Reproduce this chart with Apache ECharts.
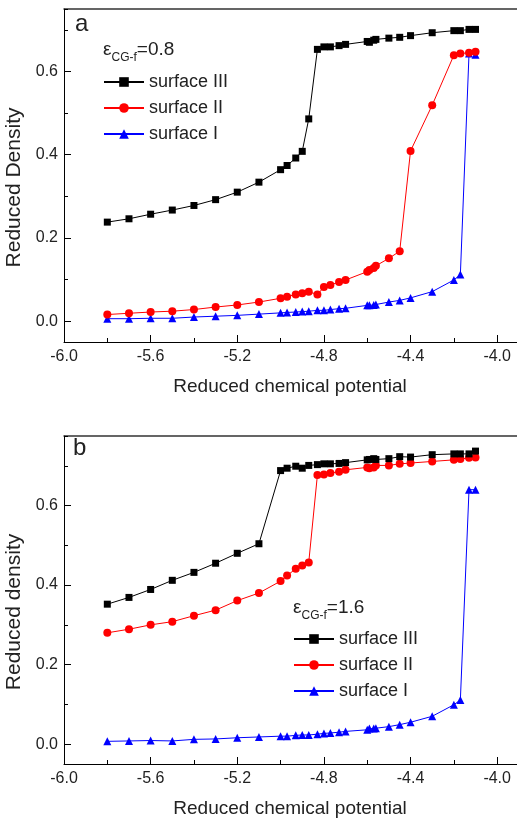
<!DOCTYPE html>
<html>
<head>
<meta charset="utf-8">
<script src="https://cdn.jsdelivr.net/npm/echarts@6/dist/echarts.min.js"></script>
<style>
html,body{margin:0;padding:0;background:#fff;overflow:hidden;}
#c{width:517px;height:821px;}
</style>
</head>
<body>
<div id="c"></div>
<script>
// x values (reduced chemical potential), shared by all series
var xVals = [-5.8,-5.7,-5.6,-5.5,-5.4,-5.3,-5.2,-5.1,-5.0,-4.97,-4.93,-4.9,-4.87,-4.83,-4.8,-4.77,-4.73,-4.7,-4.6,-4.59,-4.57,-4.56,-4.5,-4.45,-4.4,-4.3,-4.2,-4.17,-4.13,-4.1];

// panel a (eps = 0.8)
var a_surfIII = [0.238,0.246,0.257,0.267,0.278,0.292,0.310,0.334,0.364,0.374,0.392,0.408,0.486,0.653,0.659,0.659,0.662,0.665,0.672,0.670,0.675,0.677,0.680,0.682,0.686,0.693,0.698,0.698,0.701,0.701];
var a_surfII  = [0.016,0.019,0.022,0.024,0.028,0.034,0.039,0.046,0.055,0.059,0.064,0.067,0.071,0.064,0.082,0.087,0.094,0.099,0.119,0.123,0.128,0.133,0.151,0.168,0.409,0.519,0.639,0.643,0.645,0.647];
var a_surfI   = [0.006,0.006,0.007,0.007,0.010,0.012,0.014,0.017,0.020,0.021,0.022,0.023,0.024,0.026,0.026,0.028,0.030,0.031,0.038,0.038,0.039,0.040,0.046,0.050,0.056,0.071,0.099,0.112,0.643,0.640];

// panel b (eps = 1.6)
var b_surfIII = [0.352,0.369,0.389,0.412,0.432,0.455,0.480,0.504,0.688,0.694,0.699,0.694,0.701,0.703,0.705,0.705,0.706,0.708,0.715,0.716,0.718,0.716,0.718,0.723,0.722,0.728,0.730,0.730,0.730,0.737];
var b_surfII  = [0.280,0.289,0.300,0.308,0.323,0.337,0.361,0.380,0.410,0.424,0.441,0.449,0.457,0.677,0.678,0.682,0.685,0.690,0.696,0.694,0.696,0.701,0.701,0.705,0.707,0.711,0.715,0.717,0.720,0.721];
var b_surfI   = [0.007,0.008,0.009,0.008,0.012,0.013,0.016,0.018,0.020,0.020,0.022,0.023,0.023,0.025,0.027,0.028,0.030,0.032,0.036,0.039,0.039,0.040,0.044,0.049,0.055,0.070,0.099,0.111,0.640,0.640];

var seriesNames = ['surface III','surface II','surface I'];
var xTitle = 'Reduced chemical potential';
var yTitleA = 'Reduced Density';
var yTitleB = 'Reduced density';

var FONT = 'Liberation Sans, Arial, sans-serif';
var TXT = '#222';

function pairs(ys){ return xVals.map(function(x,i){ return [x, ys[i]]; }); }

var chart = echarts.init(document.getElementById('c'));

var X_MIN = -6, X_MAX = -3.83;
var grids = [
  {left:64, top:9, width:470, height:333, outerBoundsMode:'none'},
  {left:64, top:436, width:470, height:328, outerBoundsMode:'none'}
];
var yRanges = [[-0.05,0.75],[-0.05,0.775]];

var xAxes = [], yAxes = [];
[0,1].forEach(function(g){
  xAxes.push({type:'value', gridIndex:g, min:X_MIN, max:X_MAX, interval:0.4, position:'bottom',
    axisLine:{show:true, onZero:false, lineStyle:{color:'#000', width:1}},
    axisTick:{show:true, inside:true, length:7, lineStyle:{color:'#000'}},
    axisLabel:{show:true, margin:7, fontSize:16, color:TXT, fontFamily:FONT, showMaxLabel:false,
      formatter:function(v){ return v.toFixed(1); }},
    splitLine:{show:false},
    name:xTitle, nameLocation:'middle', nameGap:35,
    nameTextStyle:{fontSize:19, color:TXT, fontFamily:FONT, padding:[0,18,0,0]}
  });
  xAxes.push({type:'value', gridIndex:g, min:X_MIN, max:X_MAX, interval:0.2, position:'bottom',
    axisLine:{show:false, onZero:false},
    axisTick:{show:true, inside:true, length:4, lineStyle:{color:'#000'}},
    axisLabel:{show:false}, splitLine:{show:false}
  });
  xAxes.push({type:'value', gridIndex:g, min:X_MIN, max:X_MAX, position:'top',
    axisLine:{show:true, onZero:false, lineStyle:{color:'#333', width:1.5}},
    axisTick:{show:false}, axisLabel:{show:false}, splitLine:{show:false}
  });
  yAxes.push({type:'value', gridIndex:g, min:yRanges[g][0], max:yRanges[g][1], splitNumber:5, position:'left',
    axisLine:{show:true, onZero:false, lineStyle:{color:'#000', width:1}},
    axisTick:{show:true, inside:true, length:7, lineStyle:{color:'#000'}},
    axisLabel:{show:true, margin:6, fontSize:16, color:TXT, fontFamily:FONT, showMinLabel:false, showMaxLabel:false,
      formatter:function(v){ return v.toFixed(1); }},
    splitLine:{show:false},
    name: g===0 ? yTitleA : yTitleB, nameLocation:'middle', nameGap:32,
    nameTextStyle:{fontSize:21, color:TXT, fontFamily:FONT, padding:[0,24,0,0]}
  });
  yAxes.push({type:'value', gridIndex:g, min:yRanges[g][0], max:yRanges[g][1], splitNumber:8, position:'left',
    axisLine:{show:false, onZero:false},
    axisTick:{show:true, inside:true, length:4, lineStyle:{color:'#000'}},
    axisLabel:{show:false}, splitLine:{show:false}
  });
});

var colors = ['#000000','#ff0000','#0000ff'];
var symbols = ['rect','circle','triangle'];
var sizes = [7,8,8];
var dataSets = [[a_surfIII,a_surfII,a_surfI],[b_surfIII,b_surfII,b_surfI]];

var series = [];
[0,1].forEach(function(g){
  dataSets[g].forEach(function(ys,k){
    series.push({type:'line', name:seriesNames[k], xAxisIndex:g*3, yAxisIndex:g*2,
      data:pairs(ys), symbol:symbols[k], symbolSize:sizes[k], showAllSymbol:true,
      itemStyle:{color:colors[k]}, lineStyle:{color:colors[k], width:1},
      animation:false, z:3+(2-k)
    });
  });
});

var legendCommon = {orient:'vertical', itemWidth:40, itemHeight:12, itemGap:8, selectedMode:false, padding:0,
  textStyle:{fontSize:18, color:TXT, fontFamily:FONT}, data:seriesNames};

function epsRich(){
  var base = {color:TXT, fontFamily:FONT, fontWeight:'normal'};
  return {
    e:Object.assign({fontSize:19, lineHeight:22, verticalAlign:'top'}, base),
    s:Object.assign({fontSize:12, lineHeight:22, verticalAlign:'bottom', padding:[0,0,-2,0]}, base),
    n:Object.assign({fontSize:19, lineHeight:22, verticalAlign:'top'}, base)
  };
}

chart.setOption({
  animation:false,
  grid:grids,
  xAxis:xAxes,
  yAxis:yAxes,
  series:series,
  legend:[
    Object.assign({left:103, top:73}, legendCommon),
    Object.assign({left:293, top:630}, legendCommon)
  ],
  title:[
    {text:'a', left:75, top:12, padding:0, textStyle:{fontSize:24, fontWeight:'normal', color:TXT, fontFamily:FONT}},
    {text:'b', left:73, top:436, padding:0, textStyle:{fontSize:24, fontWeight:'normal', color:TXT, fontFamily:FONT}},
    {text:'{e|ε}{s|CG-f}{n|=0.8}', left:103, top:40, padding:0,
      textStyle:{fontWeight:'normal', rich:epsRich()}},
    {text:'{e|ε}{s|CG-f}{n|=1.6}', left:293, top:598, padding:0,
      textStyle:{fontWeight:'normal', rich:epsRich()}}
  ]
});
</script>
</body>
</html>
